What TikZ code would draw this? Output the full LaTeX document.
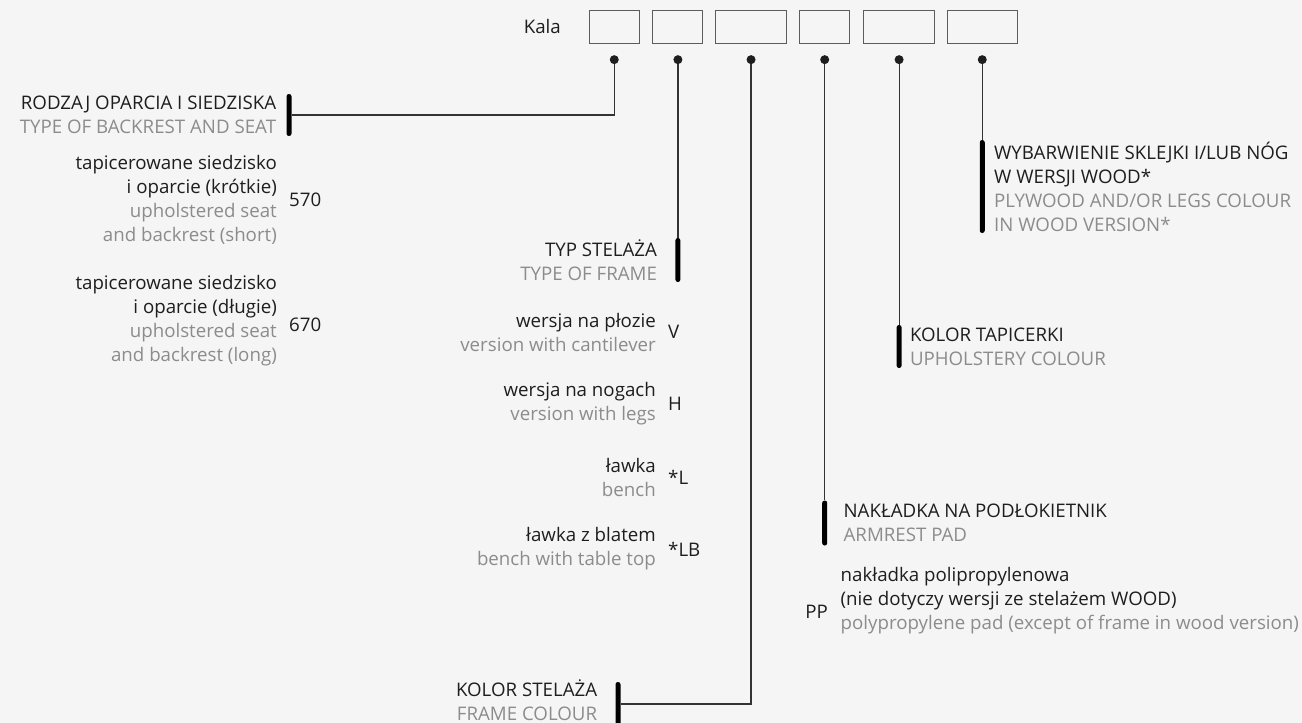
\documentclass[tikz,border=0pt]{standalone}
\usepackage{fontspec}
\setmainfont{Open Sans}
\usetikzlibrary{positioning}
\definecolor{inkblack}{HTML}{1E1E1E}
\definecolor{subgrey}{HTML}{8C8C8C}
\definecolor{wiregrey}{HTML}{333333}
\definecolor{paper}{HTML}{F4F5F4}
\newcommand{\entext}[1]{\textcolor{subgrey}{#1}}

\begin{document}
\begin{tikzpicture}[x=1pt, y=-1pt,
  codebox/.style={draw=wiregrey!80, line width=0.9pt, minimum height=32.5pt, inner sep=0pt},
  dotnode/.style={circle, fill=inkblack, minimum size=9pt, inner sep=0pt},
  bar/.style={fill=black, rounded corners=2.4pt, minimum width=5pt, inner sep=0pt},
  wire/.style={draw=wiregrey, line width=1.2pt},
  lbl/.style={inner sep=0pt, font=\fontsize{18.7}{24}\selectfont, text=inkblack},
  lblr/.style={lbl, align=right},
  lbll/.style={lbl, align=left},
  code/.style={lbl, anchor=west}
]
\useasboundingbox (0,0) rectangle (1302,723);
\fill[paper] (0,0) rectangle (1302,723);

% model code boxes
\node[codebox, minimum width=49.5pt] (b1) at (614.25,26.75) {};
\node[codebox, minimum width=50pt, right=13pt of b1] (b2) {};
\node[codebox, minimum width=70.5pt, right=12pt of b2] (b3) {};
\node[codebox, minimum width=50pt, right=12.5pt of b3] (b4) {};
\node[codebox, minimum width=71pt, right=13pt of b4] (b5) {};
\node[codebox, minimum width=70.5pt, right=11.5pt of b5] (b6) {};
\node[lbl, left=28pt of b1] (kala) {Kala};

\node[dotnode, below=11.5pt of b1] (d1) {};
\node[dotnode, below=11.5pt of b2] (d2) {};
\node[dotnode, below=11.5pt of b3] (d3) {};
\node[dotnode, below=11.5pt of b4] (d4) {};
\node[dotnode, below=11.5pt of b5] (d5) {};
\node[dotnode, below=11.5pt of b6] (d6) {};

% bars
\node[bar, minimum height=42pt] (r1) at (289,115) {};
\node[bar, minimum height=44pt] (r2) at (d2 |- 0,260) {};
\node[bar, minimum height=44pt] (r3) at (618,704) {};
\node[bar, minimum height=45pt] (r4) at (d4 |- 0,523) {};
\node[bar, minimum height=43pt] (r5) at (d5 |- 0,346.5) {};
\node[bar, minimum height=93pt] (r6) at (d6 |- 0,186.5) {};

\draw[wire] (d1) |- (r1);
\draw[wire] (d2) -- (r2);
\draw[wire] (d3) |- (r3);
\draw[wire] (d4) -- (r4);
\draw[wire] (d5) -- (r5);
\draw[wire] (d6) -- (r6);

% headings
\node[lblr, left=10pt of r1] (t1) {RODZAJ OPARCIA I SIEDZISKA\\\entext{TYPE OF BACKREST AND SEAT}};
\node[lblr, left=18pt of r2] (t2) {TYP STELAŻA\\\entext{TYPE OF FRAME}};
\node[lblr, left=18pt of r3, yshift=3.5pt] (t3) {KOLOR STELAŻA\\\entext{FRAME COLOUR}};
\node[lbll, right=16pt of r4] (t4) {NAKŁADKA NA PODŁOKIETNIK\\\entext{ARMREST PAD}};
\node[lbll, right=8pt of r5] (t5) {KOLOR TAPICERKI\\\entext{UPHOLSTERY COLOUR}};
\node[lbll, right=9pt of r6] (t6) {WYBARWIENIE SKLEJKI I/LUB NÓG\\W WERSJI WOOD*\\\entext{PLYWOOD AND/OR LEGS COLOUR}\\\entext{IN WOOD VERSION*}};

% backrest options
\node[code] (c570) at (289,200) {570};
\node[lblr, left=12pt of c570] (o570) {tapicerowane siedzisko\\i oparcie (krótkie)\\\entext{upholstered seat}\\\entext{and backrest (short)}};
\node[code] (c670) at (289,325) {670};
\node[lblr, left=12pt of c670, yshift=4pt] (o670) {tapicerowane siedzisko\\i oparcie (długie)\\\entext{upholstered seat}\\\entext{and backrest (long)}};

% frame options
\node[code] (cv) at (668,332) {V};
\node[lblr, left=12pt of cv] (ov) {wersja na płozie\\\entext{version with cantilever}};
\node[code] (ch) at (668,404) {H};
\node[lblr, left=12pt of ch] (oh) {wersja na nogach\\\entext{version with legs}};
\node[code] (cl) at (668,477) {*L};
\node[lblr, left=12pt of cl] (ol) {ławka\\\entext{bench}};
\node[code] (clb) at (668,549) {*LB};
\node[lblr, left=12pt of clb] (olb) {ławka z blatem\\\entext{bench with table top}};

% armrest options
\node[lbl, anchor=east] (cpp) at (828,612) {PP};
\node[lbll, right=12.5pt of cpp, yshift=11.5pt] (opp) {nakładka polipropylenowa\\(nie dotyczy wersji ze stelażem WOOD)\\\entext{polypropylene pad (except of frame in wood version)}};
\end{tikzpicture}
\end{document}
